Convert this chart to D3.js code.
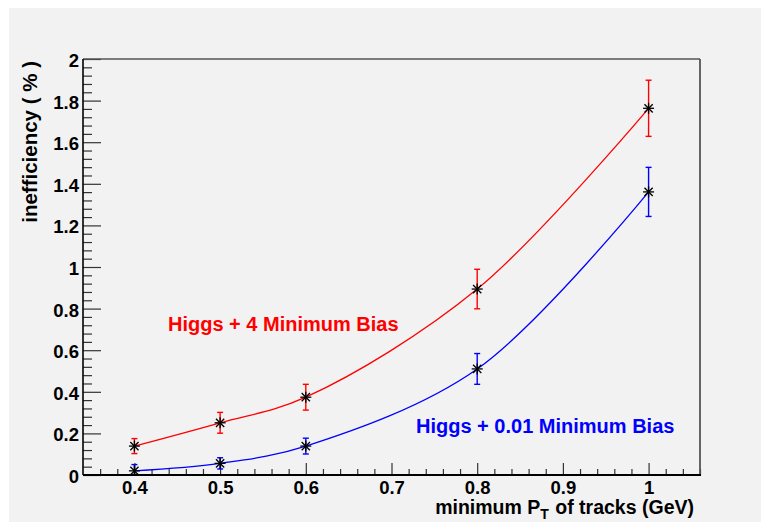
<!DOCTYPE html>
<html>
<head>
<meta charset="utf-8">
<script src="https://cdn.jsdelivr.net/npm/d3@7/dist/d3.min.js"></script>
<style>
  html, body { margin: 0; padding: 0; background: #ffffff; }
  svg { display: block; }
  text { font-family: "Liberation Sans", Arial, Helvetica, sans-serif; font-weight: bold; }
</style>
</head>
<body>
<svg id="chart" width="761" height="522"></svg>
<script>
// Minimum track pT cut (GeV)
const ptCuts = [0.4, 0.5, 0.6, 0.8, 1.0];
// Inefficiency (%) with 4 minimum-bias events overlaid
const ineffHiggs4MB = [0.139, 0.251, 0.374, 0.894, 1.763];
const errHiggs4MB   = [0.036, 0.050, 0.062, 0.095, 0.135];
// Inefficiency (%) with 0.01 minimum-bias events overlaid
const ineffHiggs001MB = [0.020, 0.056, 0.139, 0.510, 1.361];
const errHiggs001MB   = [0.030, 0.027, 0.038, 0.074, 0.118];

const xMajorTicks = [0.4, 0.5, 0.6, 0.7, 0.8, 0.9, 1.0];
const yMajorTicks = [0, 0.2, 0.4, 0.6, 0.8, 1, 1.2, 1.4, 1.6, 1.8, 2];
const xTitle = "minimum P";
const xTitleSub = "T";
const xTitleRest = " of tracks (GeV)";
const yTitle = "inefficiency ( % )";
const labelHiggs4MB = "Higgs + 4 Minimum Bias";
const labelHiggs001MB = "Higgs + 0.01 Minimum Bias";

const svg = d3.select("#chart");
const frame = { left: 83, right: 700, top: 59, bottom: 475 };

// canvas background
svg.append("rect").attr("x", 9).attr("y", 8).attr("width", 752).attr("height", 514).attr("fill", "#f2f2f2");

const x = d3.scaleLinear().domain([0.34, 1.06]).range([frame.left, frame.right]);
const y = d3.scaleLinear().domain([0, 2]).range([frame.bottom, frame.top]);

// minor tick values
const xMinor = d3.range(0.36, 1.0601, 0.02).filter(v => Math.abs(Math.round(v * 10) - v * 10) > 1e-6);
const yMinor = d3.range(0.04, 2.0001, 0.04).filter(v => Math.abs(Math.round(v * 5) - v * 5) > 1e-6);

const fmt = v => (v === 0 ? "0" : (Math.abs(v - Math.round(v)) < 1e-9 ? String(Math.round(v)) : d3.format(".1f")(v)));

// x axis
const gx = svg.append("g").attr("transform", `translate(0,${frame.bottom})`);
gx.call(d3.axisBottom(x).tickValues(xMajorTicks).tickSize(-12).tickPadding(6).tickFormat(fmt));
const gxm = svg.append("g").attr("transform", `translate(0,${frame.bottom})`);
gxm.call(d3.axisBottom(x).tickValues(xMinor).tickSize(-6).tickFormat(""));

// y axis
const gy = svg.append("g").attr("transform", `translate(${frame.left},0)`);
gy.call(d3.axisLeft(y).tickValues(yMajorTicks).tickSize(-18).tickPadding(4).tickFormat(fmt));
const gym = svg.append("g").attr("transform", `translate(${frame.left},0)`);
gym.call(d3.axisLeft(y).tickValues(yMinor).tickSize(-9).tickFormat(""));

[gx, gxm, gy, gym].forEach(g => {
  g.select(".domain").remove();
  g.selectAll(".tick line").attr("stroke", "#333").attr("stroke-width", 1.2);
  g.selectAll(".tick text").attr("font-size", 18.5).attr("fill", "#000")
    .attr("font-family", "'Liberation Sans', Arial, sans-serif").attr("font-weight", "bold");
});
gy.selectAll(".tick text").attr("dy", "0.4em");
gx.selectAll(".tick text").attr("dy", "0.68em");

// frame
svg.append("line").attr("x1", frame.left).attr("x2", frame.right).attr("y1", frame.top).attr("y2", frame.top)
  .attr("stroke", "#555").attr("stroke-width", 1.6);
svg.append("line").attr("x1", frame.right).attr("x2", frame.right).attr("y1", frame.top).attr("y2", frame.bottom)
  .attr("stroke", "#555").attr("stroke-width", 1.8);
svg.append("line").attr("x1", frame.left).attr("x2", frame.left).attr("y1", frame.top).attr("y2", frame.bottom)
  .attr("stroke", "#000").attr("stroke-width", 1.6);
svg.append("line").attr("x1", frame.left).attr("x2", frame.right + 1).attr("y1", frame.bottom).attr("y2", frame.bottom)
  .attr("stroke", "#000").attr("stroke-width", 1.8);

// axis titles
const xt = svg.append("text").attr("x", 694).attr("y", 514).attr("text-anchor", "end")
  .attr("font-size", 19.5).attr("fill", "#000");
xt.append("tspan").text(xTitle);
xt.append("tspan").text(xTitleSub).attr("font-size", 14).attr("dy", 5);
xt.append("tspan").text(xTitleRest).attr("dy", -5).attr("dx", 1);

svg.append("text").attr("transform", "translate(37,61) rotate(-90)").attr("text-anchor", "end")
  .attr("font-size", 20.5).attr("fill", "#000").text(yTitle);

// series
const series = [
  { vals: ineffHiggs4MB, errs: errHiggs4MB, color: "#ff0000" },
  { vals: ineffHiggs001MB, errs: errHiggs001MB, color: "#0000ff" }
];

const plot = svg.append("g");
plot.append("clipPath").attr("id", "clip").append("rect")
  .attr("x", frame.left).attr("y", frame.top).attr("width", frame.right - frame.left).attr("height", frame.bottom - frame.top);

const line = d3.line().x(d => x(d[0])).y(d => y(d[1])).curve(d3.curveCatmullRom.alpha(0.5));

series.forEach(s => {
  const pts = ptCuts.map((p, i) => [p, s.vals[i], s.errs[i]]);
  const g = plot.append("g").attr("clip-path", "url(#clip)");
  g.append("path").datum(pts).attr("d", line).attr("fill", "none").attr("stroke", s.color).attr("stroke-width", 1.3);
  // error bars
  const eb = g.selectAll(null).data(pts).enter().append("g");
  eb.append("line").attr("x1", d => x(d[0])).attr("x2", d => x(d[0]))
    .attr("y1", d => y(d[1] - d[2])).attr("y2", d => y(d[1] + d[2]))
    .attr("stroke", s.color).attr("stroke-width", 1.4);
  [-1, 1].forEach(sg => {
    eb.append("line").attr("x1", d => x(d[0]) - 3).attr("x2", d => x(d[0]) + 3)
      .attr("y1", d => y(d[1] + sg * d[2])).attr("y2", d => y(d[1] + sg * d[2]))
      .attr("stroke", s.color).attr("stroke-width", 1.4);
  });
  // asterisk markers
  const mk = g.selectAll(null).data(pts).enter().append("g")
    .attr("transform", d => `translate(${x(d[0])},${y(d[1])})`);
  const r = 5.5;
  mk.append("line").attr("x1", -r).attr("x2", r).attr("y1", 0).attr("y2", 0);
  mk.append("line").attr("x1", 0).attr("x2", 0).attr("y1", -r).attr("y2", r);
  mk.append("line").attr("x1", -r * 0.75).attr("x2", r * 0.75).attr("y1", -r * 0.75).attr("y2", r * 0.75);
  mk.append("line").attr("x1", -r * 0.75).attr("x2", r * 0.75).attr("y1", r * 0.75).attr("y2", -r * 0.75);
  mk.selectAll("line").attr("stroke", "#000").attr("stroke-width", 1.3);
});

// series labels
svg.append("text").attr("x", 168).attr("y", 331).attr("font-size", 20).attr("fill", "#ff0000").text(labelHiggs4MB);
svg.append("text").attr("x", 416).attr("y", 433).attr("font-size", 20).attr("fill", "#0000ff").text(labelHiggs001MB);
</script>
</body>
</html>
